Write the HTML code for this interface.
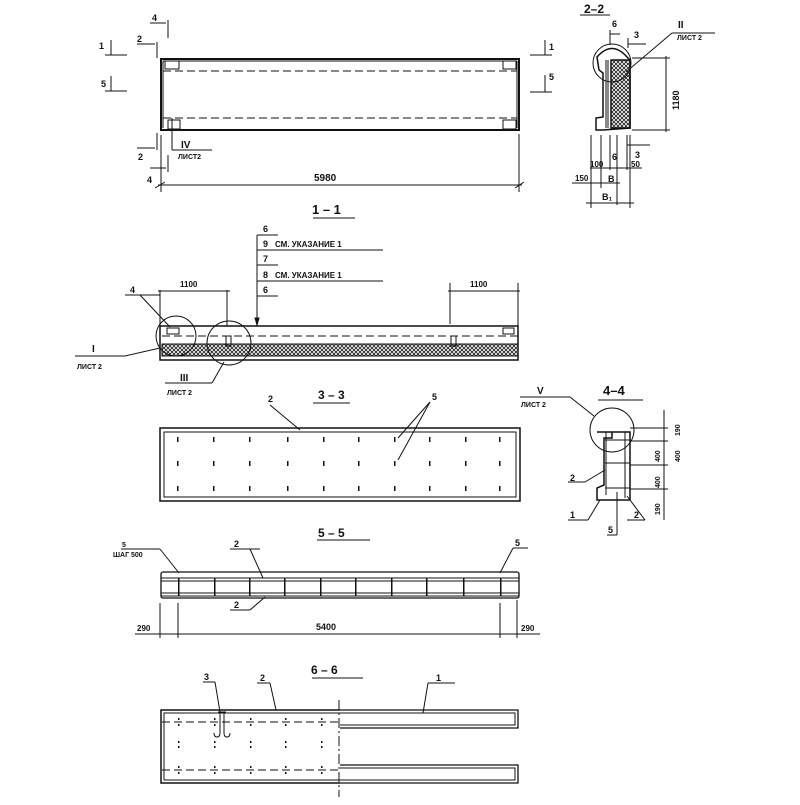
<!DOCTYPE html>
<html><head><meta charset="utf-8"><style>
html,body{margin:0;padding:0;background:#fff;}
svg text{font-family:"Liberation Sans",sans-serif;font-weight:bold;fill:#111;}
</style></head><body>
<svg width="800" height="800" viewBox="0 0 800 800" xmlns="http://www.w3.org/2000/svg">
<defs>
<pattern id="h" width="4" height="4" patternUnits="userSpaceOnUse">
<rect width="4" height="4" fill="#fff"/><path d="M0 0L4 4M4 0L0 4" stroke="#222" stroke-width="0.9"/>
</pattern>
</defs>
<g stroke="#111" fill="none" stroke-width="1">
<!-- TOP VIEW -->
<rect x="161" y="59" width="358" height="71" stroke-width="2"/>
<line x1="163" y1="61" x2="517" y2="61"/>
<line x1="163" y1="61" x2="163" y2="128"/>
<line x1="517" y1="61" x2="517" y2="128"/>
<line x1="163" y1="71" x2="517" y2="71" stroke-dasharray="8,4"/>
<line x1="163" y1="118" x2="517" y2="118" stroke-dasharray="8,4"/>
<rect x="165" y="61" width="14" height="8"/><rect x="503" y="61" width="13" height="8"/>
<rect x="168" y="120" width="12" height="9"/><rect x="503" y="120" width="13" height="9"/>
<line x1="172" y1="118" x2="172" y2="150"/><line x1="172" y1="150" x2="212" y2="150"/>
<!-- section marks -->
<line x1="105" y1="55" x2="127" y2="55"/><line x1="111" y1="40" x2="111" y2="55"/>
<line x1="105" y1="91" x2="127" y2="91"/><line x1="111" y1="76" x2="111" y2="91"/>
<line x1="530" y1="55" x2="552" y2="55"/><line x1="545" y1="40" x2="545" y2="55"/>
<line x1="530" y1="92" x2="552" y2="92"/><line x1="545" y1="75" x2="545" y2="92"/>
<line x1="157" y1="42" x2="157" y2="58"/><line x1="137" y1="44" x2="155" y2="44"/>
<line x1="168" y1="20" x2="168" y2="38"/><line x1="150" y1="23" x2="166" y2="23"/>
<line x1="157" y1="133" x2="157" y2="150"/><line x1="137" y1="148" x2="155" y2="148"/>
<line x1="168" y1="155" x2="168" y2="172"/><line x1="150" y1="168" x2="166" y2="168"/>
<!-- dim 5980 -->
<line x1="161" y1="135" x2="161" y2="192"/><line x1="519" y1="134" x2="519" y2="192"/>
<line x1="158" y1="185" x2="522" y2="185"/>
<line x1="155" y1="188" x2="165" y2="182"/><line x1="515" y1="188" x2="524" y2="182"/>
<line x1="313" y1="218" x2="355" y2="218"/>
<!-- 2-2 section -->
<line x1="580" y1="15" x2="610" y2="15"/>
<path d="M599 70 L597 57 Q612 40 627 57 L630 60 L630 128 L603 130 L596 130 L596 118 L603 117 L603 73 Z" stroke-width="1.5"/>
<rect x="611" y="60" width="19" height="68" fill="url(#h)" stroke-width="1.5"/>
<line x1="606" y1="60" x2="606" y2="128"/><line x1="608" y1="60" x2="608" y2="128"/>
<circle cx="612" cy="63" r="19"/>
<line x1="610" y1="30" x2="610" y2="45"/><line x1="610" y1="34" x2="620" y2="34"/>
<line x1="628" y1="38" x2="628" y2="48"/><line x1="628" y1="44" x2="646" y2="44"/>
<line x1="626" y1="72" x2="672" y2="33"/><line x1="672" y1="33" x2="715" y2="33"/>
<line x1="632" y1="58" x2="670" y2="58"/><line x1="632" y1="130" x2="670" y2="130"/>
<line x1="666" y1="56" x2="666" y2="132"/>
<line x1="591" y1="135" x2="591" y2="208"/><line x1="601" y1="135" x2="601" y2="188"/>
<line x1="610" y1="135" x2="610" y2="170"/><line x1="617" y1="135" x2="617" y2="205"/>
<line x1="627" y1="135" x2="627" y2="170"/><line x1="630" y1="135" x2="630" y2="208"/>
<line x1="627" y1="145" x2="650" y2="145"/><line x1="590" y1="168" x2="642" y2="168"/>
<line x1="572" y1="183" x2="620" y2="183"/><line x1="586" y1="203" x2="634" y2="203"/>
<!-- 1-1 section -->
<rect x="160" y="326" width="358" height="34" stroke-width="1.5"/>
<line x1="162" y1="336" x2="518" y2="336" stroke-dasharray="8,4"/>
<rect x="162" y="344" width="356" height="12" fill="url(#h)"/>
<rect x="167" y="328" width="12" height="6"/><rect x="503" y="328" width="11" height="6"/>
<rect x="226" y="336" width="5" height="10"/><rect x="451" y="336" width="5" height="10"/>
<circle cx="176" cy="336" r="20"/><circle cx="229" cy="343" r="22"/>
<line x1="160" y1="290" x2="160" y2="326"/><line x1="227" y1="290" x2="227" y2="326"/>
<line x1="158" y1="291" x2="230" y2="291"/>
<line x1="450" y1="283" x2="450" y2="324"/><line x1="518" y1="283" x2="518" y2="326"/>
<line x1="448" y1="291" x2="520" y2="291"/>
<line x1="257" y1="235" x2="257" y2="322"/><path d="M255 318 L257 325 L259 318 Z" fill="#111"/>
<line x1="257" y1="235" x2="278" y2="235"/><line x1="257" y1="250" x2="383" y2="250"/>
<line x1="257" y1="265" x2="278" y2="265"/><line x1="257" y1="281" x2="383" y2="281"/>
<line x1="257" y1="296" x2="278" y2="296"/>
<line x1="125" y1="295" x2="160" y2="295"/><line x1="140" y1="295" x2="170" y2="327"/>
<line x1="75" y1="356" x2="125" y2="356"/><line x1="125" y1="356" x2="160" y2="348"/>
<line x1="165" y1="383" x2="212" y2="383"/><line x1="212" y1="383" x2="224" y2="362"/>
<line x1="313" y1="403" x2="350" y2="403"/>
<!-- 3-3 -->
<rect x="160" y="428" width="360" height="73" stroke-width="1.5"/>
<rect x="164" y="432" width="352" height="65"/>
<line x1="270" y1="405" x2="300" y2="430"/><line x1="430" y1="402" x2="398" y2="438"/><line x1="430" y1="402" x2="398" y2="460"/>
<!-- 4-4 -->
<line x1="598" y1="400" x2="643" y2="400"/>
<path d="M597 432 L612 432 L612 438 L604 438 L604 485 L597 488 L597 500 L630 500 L630 432 Z" stroke-width="1.5"/>
<line x1="606" y1="432" x2="606" y2="495"/><line x1="625" y1="432" x2="625" y2="498"/>
<line x1="605" y1="440" x2="630" y2="440"/><line x1="605" y1="463" x2="630" y2="463"/><line x1="605" y1="488" x2="630" y2="488"/>
<circle cx="612" cy="430" r="22"/>
<line x1="520" y1="397" x2="570" y2="397"/><line x1="570" y1="397" x2="594" y2="416"/>
<line x1="630" y1="428" x2="668" y2="428"/><line x1="630" y1="441" x2="668" y2="441"/><line x1="630" y1="465" x2="668" y2="465"/><line x1="630" y1="489" x2="668" y2="489"/>
<line x1="664" y1="410" x2="664" y2="520"/>
<line x1="568" y1="482" x2="585" y2="482"/><line x1="585" y1="482" x2="605" y2="470"/>
<line x1="568" y1="520" x2="588" y2="520"/><line x1="588" y1="520" x2="600" y2="500"/>
<line x1="607" y1="535" x2="617" y2="535"/><line x1="617" y1="535" x2="617" y2="492"/>
<line x1="627" y1="520" x2="645" y2="520"/><line x1="627" y1="496" x2="645" y2="520"/>
<!-- 5-5 -->
<line x1="317" y1="540" x2="370" y2="540"/>
<rect x="161" y="572" width="358" height="26" rx="2" stroke-width="1.3"/>
<line x1="161" y1="578" x2="519" y2="578"/><line x1="161" y1="581" x2="519" y2="581"/>
<line x1="161" y1="593" x2="519" y2="593"/><line x1="161" y1="596" x2="519" y2="596"/>
<line x1="121" y1="549" x2="160" y2="549"/><line x1="160" y1="549" x2="179" y2="573"/>
<line x1="230" y1="549" x2="260" y2="549"/><line x1="250" y1="549" x2="263" y2="578"/>
<line x1="230" y1="610" x2="250" y2="610"/><line x1="250" y1="610" x2="265" y2="597"/>
<line x1="513" y1="548" x2="528" y2="548"/><line x1="513" y1="548" x2="500" y2="573"/>
<line x1="160" y1="603" x2="160" y2="638"/><line x1="178" y1="603" x2="178" y2="638"/>
<line x1="500" y1="603" x2="500" y2="638"/><line x1="517" y1="600" x2="517" y2="638"/>
<line x1="135" y1="634" x2="540" y2="634"/>
<!-- 6-6 -->
<line x1="312" y1="678" x2="363" y2="678"/>
<rect x="161" y="710" width="357" height="73" stroke-width="0"/>
<path d="M340 710 L161 710 L161 783 L340 783" stroke-width="1.5"/>
<path d="M340 713 L164 713 L164 780 L340 780"/>
<line x1="162" y1="722" x2="340" y2="722" stroke-dasharray="8,4"/>
<line x1="162" y1="770" x2="340" y2="770" stroke-dasharray="8,4"/>
<path d="M340 710 L518 710 L518 728 L340 728" stroke-width="1.3"/><path d="M340 713 L515 713 L515 725 L340 725"/>
<path d="M340 765 L518 765 L518 783 L340 783" stroke-width="1.3"/><path d="M340 768 L515 768 L515 780 L340 780"/>
<line x1="339" y1="700" x2="339" y2="797" stroke-dasharray="10,3,2,3"/>
<path d="M218 712 L226 712 M220 712 L220 733 Q220 737 217 737 Q214 737 214 733 M224 712 L224 733 Q224 737 227 737 Q230 737 230 733"/>
<line x1="203" y1="682" x2="215" y2="682"/><line x1="215" y1="682" x2="220" y2="712"/>
<line x1="257" y1="683" x2="270" y2="683"/><line x1="270" y1="683" x2="276" y2="710"/>
<line x1="428" y1="683" x2="455" y2="683"/><line x1="428" y1="683" x2="423" y2="713"/>
</g>
<g fill="#111">
<!-- 3-3 dots -->
<g id="dots">
<rect x="177" y="437" width="1.5" height="5"/><rect x="177" y="461" width="1.5" height="5"/><rect x="177" y="486" width="1.5" height="5"/>
</g>
<use href="#dots" x="36"/><use href="#dots" x="72"/><use href="#dots" x="110"/><use href="#dots" x="146"/>
<use href="#dots" x="181"/><use href="#dots" x="217"/><use href="#dots" x="252"/><use href="#dots" x="288"/><use href="#dots" x="322"/>
<!-- 5-5 verticals -->
<g id="v"><rect x="178" y="578" width="1.5" height="18"/></g>
<use href="#v" x="36"/><use href="#v" x="71"/><use href="#v" x="106"/><use href="#v" x="142"/>
<use href="#v" x="177"/><use href="#v" x="213"/><use href="#v" x="248"/><use href="#v" x="285"/><use href="#v" x="322"/>
<!-- 6-6 dots -->
<g id="d6"><rect x="178" y="718" width="1.5" height="2"/><rect x="178" y="724" width="1.5" height="2"/><rect x="178" y="741" width="1.5" height="2"/><rect x="178" y="746" width="1.5" height="2"/><rect x="178" y="766" width="1.5" height="2"/><rect x="178" y="772" width="1.5" height="2"/></g>
<use href="#d6" x="36"/><use href="#d6" x="72"/><use href="#d6" x="107"/><use href="#d6" x="143"/>
</g>
<g font-size="9">
<text x="99" y="49">1</text><text x="101" y="87">5</text>
<text x="549" y="50">1</text><text x="549" y="80">5</text>
<text x="137" y="42">2</text><text x="152" y="21">4</text>
<text x="138" y="160">2</text><text x="147" y="183">4</text>
<text x="181" y="148" font-size="10">IV</text><text x="178" y="159" font-size="7">ЛИСТ2</text>
<text x="314" y="181" font-size="10">5980</text>
<text x="312" y="214" font-size="13">1 – 1</text>
<text x="584" y="13" font-size="12">2–2</text>
<text x="612" y="27">6</text><text x="634" y="38">3</text>
<text x="678" y="28" font-size="10">II</text><text x="677" y="40" font-size="7">ЛИСТ 2</text>
<text transform="translate(679,110) rotate(-90)" font-size="9">1180</text>
<text x="590" y="167" font-size="8">100</text><text x="612" y="160">6</text><text x="635" y="158">3</text>
<text x="631" y="167" font-size="8">50</text><text x="575" y="181" font-size="8">150</text><text x="608" y="182">B</text>
<text x="602" y="200" font-size="9">B₁</text>
<text x="263" y="232">6</text><text x="263" y="247">9</text><text x="275" y="247" font-size="8">СМ. УКАЗАНИЕ 1</text>
<text x="263" y="262">7</text><text x="263" y="278">8</text><text x="275" y="278" font-size="8">СМ. УКАЗАНИЕ 1</text>
<text x="263" y="293">6</text>
<text x="180" y="287" font-size="8">1100</text><text x="470" y="287" font-size="8">1100</text>
<text x="130" y="293">4</text>
<text x="92" y="352" font-size="10">I</text><text x="77" y="369" font-size="7">ЛИСТ 2</text>
<text x="180" y="381" font-size="10">III</text><text x="167" y="395" font-size="7">ЛИСТ 2</text>
<text x="318" y="399" font-size="12">3 – 3</text>
<text x="268" y="402">2</text><text x="432" y="400">5</text>
<text x="537" y="394" font-size="10">V</text><text x="521" y="407" font-size="7">ЛИСТ 2</text>
<text x="603" y="395" font-size="13">4–4</text>
<text transform="translate(680,436) rotate(-90)" font-size="7">190</text>
<text transform="translate(680,462) rotate(-90)" font-size="7">400</text>
<text transform="translate(660,462) rotate(-90)" font-size="7">400</text>
<text transform="translate(660,488) rotate(-90)" font-size="7">400</text>
<text transform="translate(660,515) rotate(-90)" font-size="7">190</text>
<text x="570" y="481">2</text><text x="570" y="518">1</text><text x="608" y="533">5</text><text x="634" y="518">2</text>
<text x="318" y="537" font-size="12">5 – 5</text>
<text x="122" y="547" font-size="7">5</text><text x="113" y="557" font-size="7">ШАГ 500</text>
<text x="234" y="547">2</text><text x="234" y="608">2</text><text x="515" y="546">5</text>
<text x="137" y="631" font-size="8">290</text><text x="316" y="630" font-size="9">5400</text><text x="521" y="631" font-size="8">290</text>
<text x="311" y="674" font-size="12">6 – 6</text>
<text x="204" y="680">3</text><text x="260" y="681">2</text><text x="436" y="681">1</text>
</g>
</svg>
</body></html>
